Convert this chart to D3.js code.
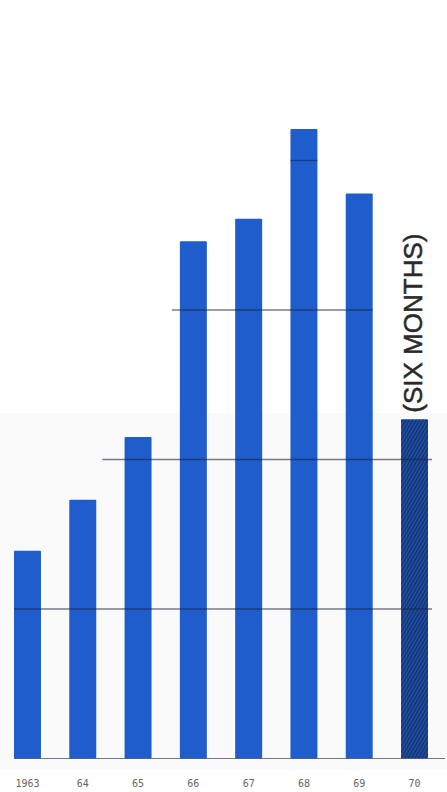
<!DOCTYPE html>
<html>
<head>
<meta charset="utf-8">
<script src="https://cdn.jsdelivr.net/npm/d3@7"></script>
<style>
  html, body { margin: 0; padding: 0; background: #ffffff; }
  svg { display: block; }
</style>
</head>
<body>
<svg id="chart" width="447" height="792"></svg>
<script>
// ---- data ----
const years = ["1963", "64", "65", "66", "67", "68", "69", "70"];
const values = [139, 173, 215, 346, 361, 421, 378, 227];
const partialYears = ["70"];
const partialLabel = "(SIX MONTHS)";
const gridValues = [100, 200, 300, 400];

// ---- layout ----
const W = 447, H = 792;
const svg = d3.select("#chart");

const x = d3.scaleBand().domain(years).range([14, 428]).paddingInner(0.512).paddingOuter(0);
const y = d3.scaleLinear().domain([0, 400]).range([758.5, 160.5]);

// faint scan tone in the lower half
svg.append("rect").attr("x", 0).attr("y", 413).attr("width", W).attr("height", 357)
  .attr("fill", "#fafafa");

// hatch pattern for the partial year
const defs = svg.append("defs");
const pat = defs.append("pattern").attr("id", "hatch")
  .attr("patternUnits", "userSpaceOnUse").attr("width", 3).attr("height", 3)
  .attr("patternTransform", "rotate(30)");
pat.append("rect").attr("width", 3).attr("height", 3).attr("fill", "#1f4a9c");
pat.append("line").attr("x1", 0.5).attr("y1", 0).attr("x2", 0.5).attr("y2", 3)
  .attr("stroke", "#10306e").attr("stroke-width", 1);

// bars
svg.append("g").selectAll("rect").data(years).join("rect")
  .attr("x", d => x(d))
  .attr("y", (d, i) => y(values[i]))
  .attr("width", x.bandwidth())
  .attr("height", (d, i) => y(0) - y(values[i]))
  .attr("rx", 1)
  .attr("fill", d => partialYears.includes(d) ? "url(#hatch)" : "#1f5dcc");

// gridlines (partial extents, as in the original)
const gridExtent = {
  100: [x("1963"), x("70") + x.bandwidth() + 4],
  200: [x("64") + x.bandwidth() + 6, x("70") + x.bandwidth() + 4],
  300: [x("66") - 8, x("69") + x.bandwidth()],
  400: [x("68"), x("68") + x.bandwidth()]
};
svg.append("g").selectAll("line").data(gridValues).join("line")
  .attr("x1", d => gridExtent[d][0])
  .attr("x2", d => gridExtent[d][1])
  .attr("y1", d => y(d)).attr("y2", d => y(d))
  .attr("stroke", "#1c2440").attr("stroke-opacity", 0.6).attr("stroke-width", 1.3);

// baseline
svg.append("line")
  .attr("x1", x("1963")).attr("x2", 445)
  .attr("y1", y(0)).attr("y2", y(0))
  .attr("stroke", "#3a3f50").attr("stroke-opacity", 0.7).attr("stroke-width", 1.2);

// x labels
const xAxis = d3.axisBottom(x).tickSize(0).tickPadding(0);
const gx = svg.append("g").attr("transform", `translate(0, ${y(0) + 21})`).call(xAxis);
gx.select(".domain").remove();
gx.selectAll("text")
  .attr("font-family", "'DejaVu Sans Mono', monospace")
  .attr("font-size", 10)
  .attr("fill", "#666");

// partial-year annotation
partialYears.forEach(py => {
  const i = years.indexOf(py);
  const cx = x(py) + x.bandwidth() / 2;
  svg.append("text")
    .attr("transform", `translate(${cx + 7.5}, ${y(values[i]) - 96}) rotate(-90)`)
    .attr("text-anchor", "middle")
    .attr("font-family", "'Liberation Sans', Arial, sans-serif")
    .attr("font-size", 26)
    .attr("fill", "#2a2a2a")
    .attr("stroke", "#2a2a2a")
    .attr("stroke-width", 0.5)
    .text(partialLabel);
});
</script>
</body>
</html>
